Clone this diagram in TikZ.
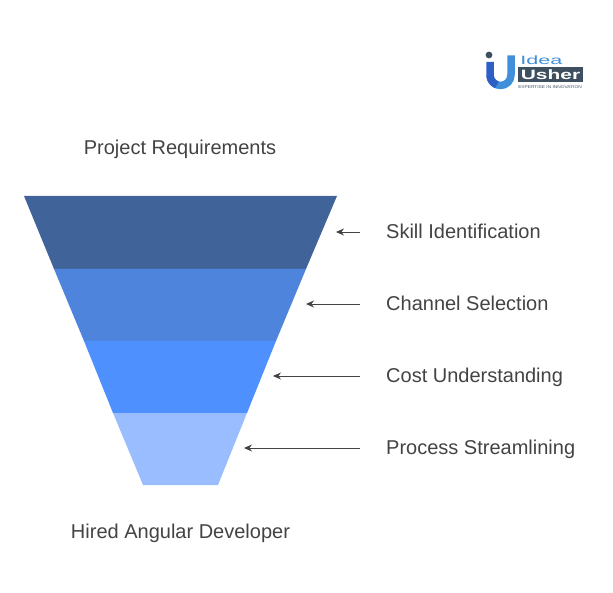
\documentclass[tikz,border=0pt]{standalone}
\usepackage{fontspec}
\setmainfont{Liberation Sans}
\usetikzlibrary{arrows.meta}
\definecolor{bandone}{HTML}{40649A}
\definecolor{bandtwo}{HTML}{4F84DC}
\definecolor{bandthree}{HTML}{4D90FE}
\definecolor{bandfour}{HTML}{99BDFF}
\definecolor{labelgray}{HTML}{434343}
\definecolor{logodark}{HTML}{3E4F60}
\definecolor{logoblue}{HTML}{3F8FDA}
\definecolor{logodeep}{HTML}{2D5FC4}
\tikzset{
  title/.style={text=labelgray,font=\fontsize{20}{24}\selectfont,inner sep=0pt},
  stage/.style={text=labelgray,font=\fontsize{20}{24}\selectfont,anchor=west,inner ysep=0pt,inner xsep=26pt,text height=16.5pt,text depth=4pt},
  pointer/.style={draw=labelgray,line width=0.9pt,-{Stealth[length=8pt,width=7pt]}}
}
\begin{document}
\begin{tikzpicture}[x=1pt,y=-1pt,line join=round]
  \useasboundingbox (0,0) rectangle (613,593);
  \fill[bandone] (24,196) -- (337,196) -- (306,269) -- (54,269) -- cycle;
  \fill[bandtwo] (54,269) -- (306,269) -- (276,341) -- (84,341) -- cycle;
  \fill[bandthree] (84,341) -- (276,341) -- (247,413) -- (113,413) -- cycle;
  \fill[bandfour] (113,413) -- (247,413) -- (218,485) -- (143,485) -- cycle;

  \node[title] (requirements) at (180,149) {Project Requirements};
  \node[title] (developer) at (180.5,533) {Hired Angular Developer};

  \node[stage] (skill) at (360,232) {Skill Identification};
  \node[stage] (channel) at (360,304) {Channel Selection};
  \node[stage] (cost) at (360,376) {Cost Understanding};
  \node[stage] (process) at (360,448) {Process Streamlining};

  \coordinate (skilltip) at (336,232);
  \coordinate (channeltip) at (306,304);
  \coordinate (costtip) at (273,376);
  \coordinate (processtip) at (244,448);

  \draw[pointer] (skill.west) -- (skilltip);
  \draw[pointer] (channel.west) -- (channeltip);
  \draw[pointer] (cost.west) -- (costtip);
  \draw[pointer] (process.west) -- (processtip);

  \fill[logodark] (489,55) circle[radius=3.4];
  \draw[logoblue,line width=7.5pt] (511,55.5) -- (511,75) arc[start angle=0,end angle=180,radius=10.5];
  \draw[logodeep,line width=7.5pt] (490,62) -- (490,75) arc[start angle=180,end angle=110,radius=10.5];
  \node[inner sep=0pt,anchor=west,text=logoblue,xscale=1.8,font=\fontsize{12}{12}\selectfont] (idea) at (520,60.5) {Idea};
  \fill[logodark] (518,67) rectangle (583,82.5);
  \node[inner sep=0pt,text=white,xscale=1.55,font=\bfseries\fontsize{13.5}{14}\selectfont] (usher) at (550.5,75) {Usher};
  \node[inner sep=0pt,text=logodark,xscale=1.2,font=\fontsize{4}{4}\selectfont] (tagline) at (550,87) {EXPERTISE IN INNOVATION};
\end{tikzpicture}
\end{document}
